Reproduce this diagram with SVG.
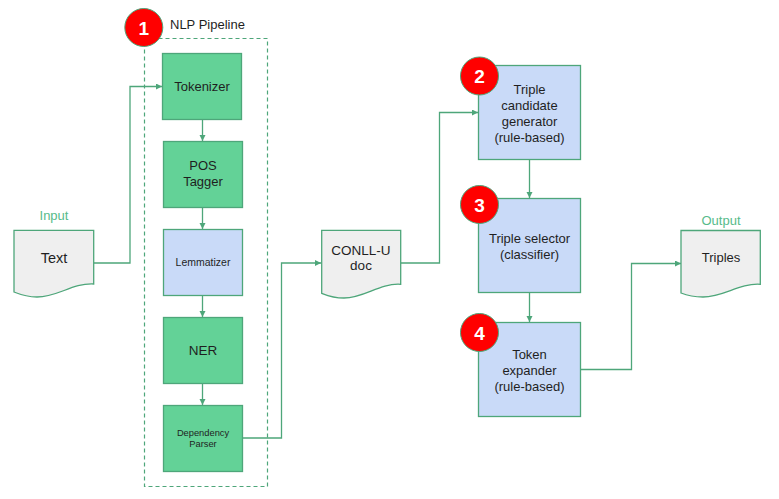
<svg xmlns="http://www.w3.org/2000/svg" width="779" height="499" viewBox="0 0 779 499">
<defs>
<style>
.t{font-family:"Liberation Sans",Arial,sans-serif;fill:#1f1f1f;text-anchor:middle}
.g{fill:#63d297;stroke:#4ea67a;stroke-width:1.3}
.b{fill:#c9daf8;stroke:#4ea67a;stroke-width:1.3}
.d{fill:#efefef;stroke:#4ea67a;stroke-width:1.3}
.c{fill:none;stroke:#4ea67a;stroke-width:1.3}
.lbl{font-family:"Liberation Sans",Arial,sans-serif;fill:#57bb8a;font-size:13px;text-anchor:middle}
.badge{fill:#ff0000;stroke:#4ea67a;stroke-width:1}
.bn{font-family:"Liberation Sans",Arial,sans-serif;fill:#ffffff;font-weight:bold;font-size:19px;text-anchor:middle}
</style>
<marker id="ah" markerWidth="8" markerHeight="8" refX="6" refY="3" orient="auto" markerUnits="userSpaceOnUse">
<path d="M0,0 L6,3 L0,6 Z" fill="#4ea67a"/>
</marker>
</defs>
<rect width="779" height="499" fill="#ffffff"/>

<g id="pipeline-container">
<rect x="144.5" y="38.5" width="123" height="448" fill="none" stroke="#4ea67a" stroke-width="1.2" stroke-dasharray="4,3"/>
<text class="t" x="170" y="29" font-size="13" style="text-anchor:start">NLP Pipeline</text>
</g>

<g id="connectors">
<polyline class="c" points="93.7,263 130,263 130,86.5 162,86.5" marker-end="url(#ah)"/>
<line class="c" x1="202.5" y1="119" x2="202.5" y2="141" marker-end="url(#ah)"/>
<line class="c" x1="202.5" y1="207" x2="202.5" y2="229" marker-end="url(#ah)"/>
<line class="c" x1="202.5" y1="295" x2="202.5" y2="317" marker-end="url(#ah)"/>
<line class="c" x1="202.5" y1="383" x2="202.5" y2="405" marker-end="url(#ah)"/>
<polyline class="c" points="242,438 281.5,438 281.5,263 321,263" marker-end="url(#ah)"/>
<polyline class="c" points="400.7,263 439.5,263 439.5,112.5 478,112.5" marker-end="url(#ah)"/>
<line class="c" x1="529.5" y1="159" x2="529.5" y2="198" marker-end="url(#ah)"/>
<line class="c" x1="529.5" y1="292" x2="529.5" y2="322" marker-end="url(#ah)"/>
<polyline class="c" points="580.7,369.5 631.5,369.5 631.5,263.5 681,263.5" marker-end="url(#ah)"/>
</g>

<g id="input-text">
<text class="lbl" x="54" y="220">Input</text>
<path class="d" d="M14,230.3 H93.7 V284 C72,283 58,297 37,297 C26,297 19,294 14,292 Z"/>
<text class="t" x="54" y="263" font-size="14.5">Text</text>
</g>

<g id="tokenizer">
<rect class="g" x="162.5" y="53.5" width="79" height="66"/>
<text class="t" x="202" y="91" font-size="13">Tokenizer</text>
</g>

<g id="pos-tagger">
<rect class="g" x="163.5" y="141.5" width="79" height="66"/>
<text class="t" x="203" y="170" font-size="13">POS</text>
<text class="t" x="203" y="186" font-size="13">Tagger</text>
</g>

<g id="lemmatizer">
<rect class="b" x="163.5" y="229.5" width="79" height="66"/>
<text class="t" x="203" y="266" font-size="10.5">Lemmatizer</text>
</g>

<g id="ner">
<rect class="g" x="163.5" y="317.5" width="79" height="66"/>
<text class="t" x="203" y="355" font-size="13.5">NER</text>
</g>

<g id="dependency-parser">
<rect class="g" x="163.5" y="405.5" width="79" height="66"/>
<text class="t" x="203" y="436" font-size="9.3">Dependency</text>
<text class="t" x="203" y="447" font-size="9.3">Parser</text>
</g>

<g id="badge-1">
<circle class="badge" cx="143.8" cy="27.5" r="19"/>
<text class="bn" x="143.8" y="34.5">1</text>
</g>

<g id="conllu-doc">
<path class="d" d="M321.7,230.3 H400.7 V284.3 C379,283 365,298 344,298 C333,298 326,295 321.7,293.3 Z"/>
<text class="t" x="361" y="254.5" font-size="13.5">CONLL-U</text>
<text class="t" x="361" y="270" font-size="13.5">doc</text>
</g>

<g id="triple-candidate-generator">
<rect class="b" x="478.5" y="65.5" width="102" height="94"/>
<text class="t" x="529.5" y="93.5" font-size="13">Triple</text>
<text class="t" x="529.5" y="109.5" font-size="13">candidate</text>
<text class="t" x="529.5" y="125.5" font-size="13">generator</text>
<text class="t" x="529.5" y="141.5" font-size="13">(rule-based)</text>
</g>
<g id="badge-2">
<circle class="badge" cx="479.5" cy="76" r="19"/>
<text class="bn" x="479.5" y="83">2</text>
</g>

<g id="triple-selector">
<rect class="b" x="478.5" y="198.5" width="102" height="94"/>
<text class="t" x="529.5" y="242.5" font-size="13">Triple selector</text>
<text class="t" x="529.5" y="258.5" font-size="13">(classifier)</text>
</g>
<g id="badge-3">
<circle class="badge" cx="479.5" cy="204.5" r="19"/>
<text class="bn" x="479.5" y="211.5">3</text>
</g>

<g id="token-expander">
<rect class="b" x="478.5" y="322.5" width="102" height="94"/>
<text class="t" x="529.5" y="358.5" font-size="13">Token</text>
<text class="t" x="529.5" y="374.5" font-size="13">expander</text>
<text class="t" x="529.5" y="390.5" font-size="13">(rule-based)</text>
</g>
<g id="badge-4">
<circle class="badge" cx="479.5" cy="332.5" r="19"/>
<text class="bn" x="479.5" y="339.5">4</text>
</g>

<g id="output-triples">
<text class="lbl" x="721" y="225">Output</text>
<path class="d" d="M681,230.5 H760.3 V284.3 C739,283 724,297 703,297 C693,297 686,295 681,293 Z"/>
<text class="t" x="721" y="262" font-size="13">Triples</text>
</g>
</svg>
